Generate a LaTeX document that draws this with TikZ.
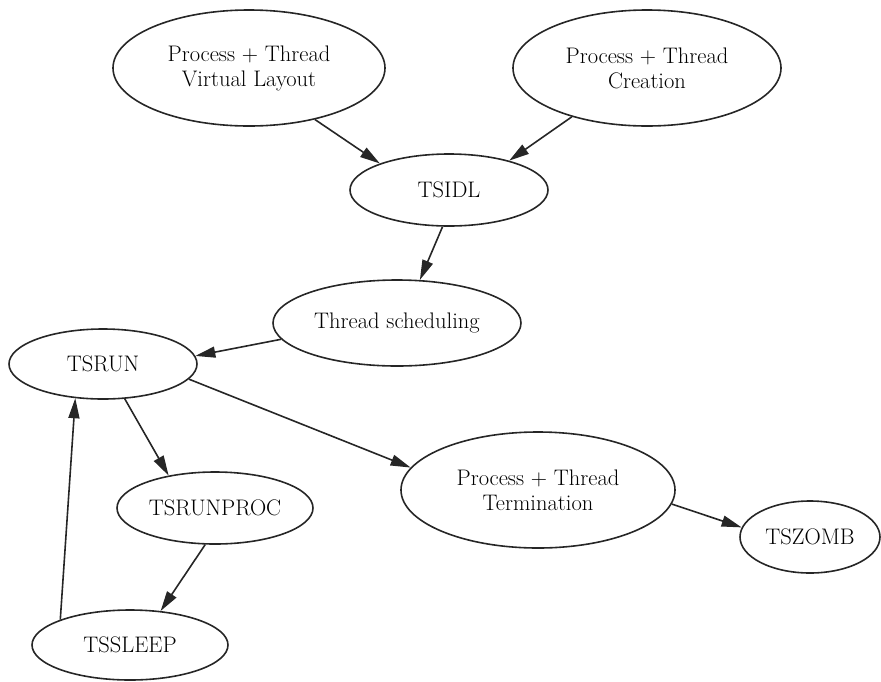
\documentclass[tikz,border=0pt]{standalone}
\usetikzlibrary{shapes.geometric,arrows.meta}
\begin{document}
\begin{tikzpicture}[x=1pt,y=-1pt,
  state/.style={draw=black!85,line width=1.6pt,ellipse,inner sep=0pt,
    minimum width=2*#1,align=center,
    font=\fontsize{22.5}{25}\selectfont,text=black},
  state/.default=98,
  arr/.style={draw=black!85,line width=1.6pt,
    -{Triangle[length=20pt,width=11pt]},shorten >=0pt}]
\useasboundingbox (0,0) rectangle (881,681);

% states of a process / thread
\node[state=136,minimum height=116] (layout)   at (249,68)  {Process + Thread\\Virtual Layout};
\node[state=134,minimum height=116] (create)   at (647,68)  {Process + Thread\\Creation};
\node[state=99,minimum height=72]   (tsidl)    at (449,190) {TSIDL};
\node[state=124,minimum height=86]  (sched)    at (397,323) {Thread scheduling};
\node[state=94,minimum height=70]   (tsrun)    at (103,364) {TSRUN};
\node[state=98,minimum height=72]   (runproc)  at (215,508) {TSRUNPROC};
\node[state=137,minimum height=116] (term)     at (538,490) {Process + Thread\\Termination};
\node[state=70,minimum height=72]   (zomb)     at (810,537) {TSZOMB};
\node[state=98,minimum height=70]   (sleep)    at (130,645) {TSSLEEP};

% transitions
\draw[arr] (layout.-38)  -- (tsidl.159);
\draw[arr] (create.-147) -- (tsidl.26);
\draw[arr] (tsidl.-100)  -- (sched.62);
\draw[arr] (sched.188)   -- (tsrun.5);
\draw[arr] (tsrun.-10)   -- (term.170);
\draw[arr] (tsrun.-58)   -- (runproc.145);
\draw[arr] (runproc.-105) -- (sleep.48);
\draw[arr] (sleep.160)   -- (tsrun.231);
\draw[arr] (term.-6)     -- (zomb.172);
\end{tikzpicture}
\end{document}
